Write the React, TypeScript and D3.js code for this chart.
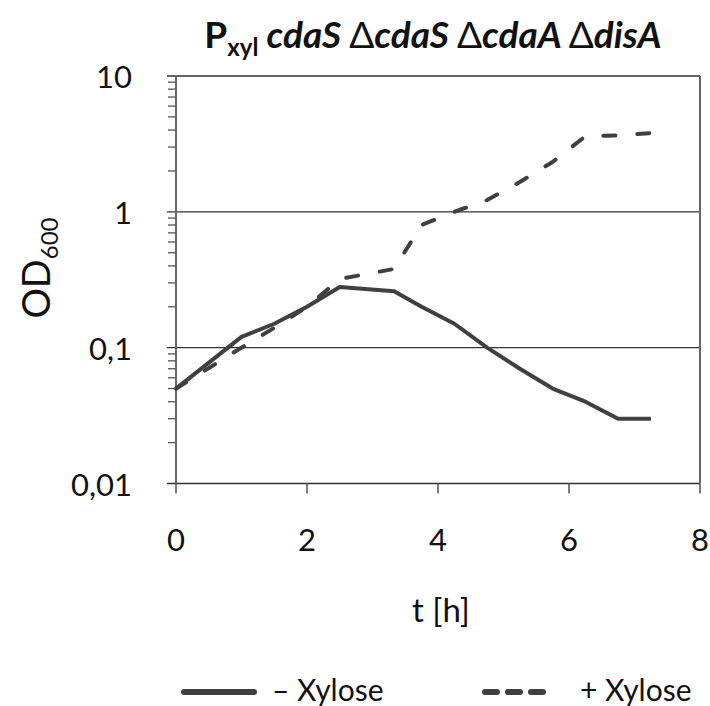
import React, { useEffect, useRef } from 'react';
import * as d3 from 'd3';

// sampling times (h)
const times = [0, 1, 1.5, 2, 2.5, 3.33, 3.75, 4.25, 4.75, 5.25, 5.75, 6.25, 6.75, 7.25];
// OD600 without xylose (solid)
const minusXylose = [0.05, 0.12, 0.15, 0.2, 0.28, 0.26, 0.2, 0.15, 0.1, 0.07, 0.05, 0.04, 0.03, 0.03];
// OD600 with xylose (dashed)
const plusXylose = [0.05, 0.1, 0.14, 0.2, 0.32, 0.38, 0.8, 1.0, 1.22, 1.66, 2.33, 3.6, 3.65, 3.8];

const xTicks = [0, 2, 4, 6, 8];
const yTicks = [0.01, 0.1, 1, 10];
const yTickLabels = ['0,01', '0,1', '1', '10'];

const FONT = 'Lato, "Open Sans", sans-serif';
const LINE = '#404040';

function App() {
  const ref = useRef<SVGSVGElement>(null);

  useEffect(() => {
    const svg = d3.select(ref.current);
    svg.selectAll('*').remove();

    const x = d3.scaleLinear().domain([0, 8]).range([176, 700]);
    const y = d3.scaleLog().domain([0.01, 10]).range([483.5, 76]);

    // minor ticks on the log axis (2..9 per decade)
    const minor: number[] = [];
    for (let e = -2; e < 1; e++) {
      for (let m = 2; m <= 9; m++) minor.push(m * Math.pow(10, e));
    }
    svg.append('g')
      .selectAll('line')
      .data(minor)
      .join('line')
      .attr('x1', 168).attr('x2', 176)
      .attr('y1', d => y(d)).attr('y2', d => y(d))
      .attr('stroke', '#555').attr('stroke-width', 1.3);

    // gridlines + major ticks
    svg.append('g')
      .selectAll('line')
      .data(yTicks)
      .join('line')
      .attr('x1', 167).attr('x2', 700)
      .attr('y1', d => y(d)).attr('y2', d => y(d))
      .attr('stroke', '#333').attr('stroke-width', 1.3);

    // right border
    svg.append('line')
      .attr('x1', 700).attr('x2', 700)
      .attr('y1', y(10)).attr('y2', y(0.01))
      .attr('stroke', '#666').attr('stroke-width', 2);

    // left axis
    svg.append('line')
      .attr('x1', 176).attr('x2', 176)
      .attr('y1', y(10)).attr('y2', y(0.01))
      .attr('stroke', '#5a5a5a').attr('stroke-width', 1.8);

    // x ticks
    svg.append('g')
      .selectAll('line')
      .data(xTicks)
      .join('line')
      .attr('x1', d => x(d)).attr('x2', d => x(d))
      .attr('y1', y(0.01)).attr('y2', y(0.01) + 10)
      .attr('stroke', '#555').attr('stroke-width', 1.5);

    // y tick labels
    svg.append('g')
      .selectAll('text')
      .data(yTicks)
      .join('text')
      .attr('x', 132)
      .attr('y', d => y(d) + 12)
      .attr('text-anchor', 'end')
      .style('font-family', FONT)
      .style('font-size', '31px')
      .style('fill', '#111')
      .text((d, i) => yTickLabels[i]);

    // x tick labels
    svg.append('g')
      .selectAll('text')
      .data(xTicks)
      .join('text')
      .attr('x', d => x(d))
      .attr('y', 551)
      .attr('text-anchor', 'middle')
      .style('font-family', FONT)
      .style('font-size', '31px')
      .style('fill', '#111')
      .text(d => String(d));

    // series
    const line = d3.line<number>()
      .x((d, i) => x(times[i]))
      .y(d => y(d));

    svg.append('path')
      .datum(minusXylose)
      .attr('d', line)
      .attr('fill', 'none')
      .attr('stroke', LINE)
      .attr('stroke-width', 4)
      .attr('stroke-linejoin', 'round');

    svg.append('path')
      .datum(plusXylose)
      .attr('d', line)
      .attr('fill', 'none')
      .attr('stroke', LINE)
      .attr('stroke-width', 4)
      .attr('stroke-linecap', 'round')
      .attr('stroke-linejoin', 'round')
      .attr('stroke-dasharray', '12,22');

    // title
    const title = svg.append('text')
      .attr('x', 433)
      .attr('y', 48)
      .attr('text-anchor', 'middle')
      .style('font-family', FONT)
      .style('font-size', '37px')
      .style('fill', '#111');
    title.append('tspan').style('font-weight', 'bold').text('P');
    title.append('tspan').style('font-weight', 'bold').style('font-size', '24px').attr('dy', 8).text('xyl');
    title.append('tspan').style('font-weight', 'bold').style('font-style', 'italic').attr('dy', -8).text(' cdaS ');
    title.append('tspan').text('\u0394');
    title.append('tspan').style('font-weight', 'bold').style('font-style', 'italic').text('cdaS ');
    title.append('tspan').text('\u0394');
    title.append('tspan').style('font-weight', 'bold').style('font-style', 'italic').text('cdaA ');
    title.append('tspan').text('\u0394');
    title.append('tspan').style('font-weight', 'bold').style('font-style', 'italic').text('disA');

    // y axis title
    const yt = svg.append('text')
      .attr('transform', 'translate(50,268) rotate(-90)')
      .attr('text-anchor', 'middle')
      .style('font-family', FONT)
      .style('font-size', '38px')
      .style('fill', '#111');
    yt.append('tspan').text('OD');
    yt.append('tspan').style('font-size', '24px').attr('dy', 8).text('600');

    // x axis title
    svg.append('text')
      .attr('x', 441)
      .attr('y', 622)
      .attr('text-anchor', 'middle')
      .style('font-family', FONT)
      .style('font-size', '33px')
      .style('fill', '#111')
      .text('t [h]');

    // legend
    svg.append('line')
      .attr('x1', 184).attr('x2', 254)
      .attr('y1', 692).attr('y2', 692)
      .attr('stroke', LINE).attr('stroke-width', 6)
      .attr('stroke-linecap', 'round');
    svg.append('text')
      .attr('x', 272).attr('y', 701)
      .style('font-family', FONT)
      .style('font-size', '30px')
      .style('fill', '#111')
      .text('\u2013 Xylose');

    svg.append('line')
      .attr('x1', 485).attr('x2', 543)
      .attr('y1', 692).attr('y2', 692)
      .attr('stroke', LINE).attr('stroke-width', 6)
      .attr('stroke-linecap', 'round')
      .attr('stroke-dasharray', '12,11');
    svg.append('text')
      .attr('x', 580).attr('y', 701)
      .style('font-family', FONT)
      .style('font-size', '30px')
      .style('fill', '#111')
      .text('+ Xylose');
  }, []);

  return (
    <div style={{ position: 'absolute', left: 0, top: 0 }}>
      <svg ref={ref} width={710} height={706} style={{ display: 'block', background: '#fff' }} />
    </div>
  );
}

export default App;
